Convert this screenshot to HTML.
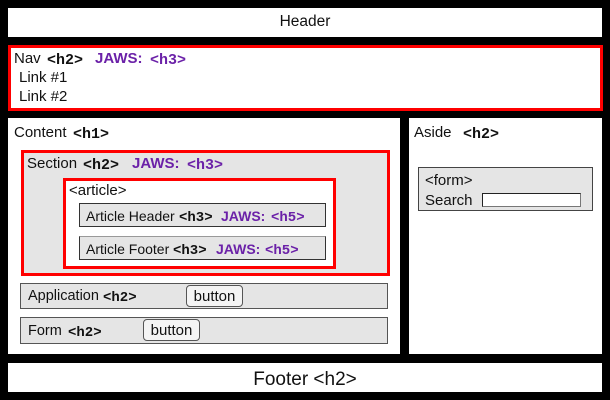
<!DOCTYPE html>
<html>
<head>
<meta charset="utf-8">
<style>
  html,body{margin:0;padding:0;}
  body{width:610px;height:400px;background:#000;position:relative;overflow:hidden;
       font-family:"Liberation Sans",Arial,sans-serif;color:#111;}
  .b{position:absolute;box-sizing:border-box;}
  .t{position:absolute;white-space:nowrap;line-height:1;font-family:"Liberation Sans",Arial,sans-serif;color:#111;margin-top:1px;}
  .m{position:absolute;white-space:nowrap;line-height:1;font-family:"Liberation Mono","Courier New",monospace;font-weight:bold;color:#111;margin-top:1.5px;}
  .j{position:absolute;white-space:nowrap;line-height:1;font-family:"Liberation Sans",Arial,sans-serif;font-weight:bold;color:#6b21a8;margin-top:1px;}
  .jm{position:absolute;white-space:nowrap;line-height:1;font-family:"Liberation Mono","Courier New",monospace;font-weight:bold;color:#6b21a8;margin-top:1.5px;}
  .f15{font-size:15px;}
  .f14{font-size:14px;}
  .btn{position:absolute;box-sizing:border-box;background:#f4f4f4;border:1px solid #555;border-radius:4px;
       font-family:"Liberation Sans",Arial,sans-serif;font-size:15px;line-height:21px;text-align:center;color:#111;}
</style>
</head>
<body>
  <!-- Header -->
  <div class="b" style="left:8px;top:8px;width:594px;height:29px;background:#fff;"></div>
  <div class="t" style="left:8px;width:594px;text-align:center;top:12.9px;font-size:15.5px;">Header</div>

  <!-- Nav -->
  <div class="b" style="left:8px;top:45px;width:595px;height:66px;background:#fff;border:3px solid #f00;"></div>
  <div class="t f15" style="left:14px;top:50.3px;">Nav</div>
  <div class="m f15" style="left:47px;top:51.5px;">&lt;h2&gt;</div>
  <div class="j f15" style="left:95px;top:50.3px;">JAWS:</div>
  <div class="jm f15" style="left:150px;top:51.5px;">&lt;h3&gt;</div>
  <div class="t f15" style="left:19px;top:69.3px;">Link #1</div>
  <div class="t f15" style="left:19px;top:88.3px;">Link #2</div>

  <!-- Content -->
  <div class="b" style="left:8px;top:118px;width:392px;height:236px;background:#fff;"></div>
  <div class="t f15" style="left:14px;top:124.3px;">Content</div>
  <div class="m f15" style="left:73px;top:125.5px;">&lt;h1&gt;</div>

  <!-- Section -->
  <div class="b" style="left:21px;top:150px;width:369px;height:126px;background:#e5e5e5;border:3px solid #f00;"></div>
  <div class="t f15" style="left:27px;top:155.3px;">Section</div>
  <div class="m f15" style="left:83px;top:156.5px;">&lt;h2&gt;</div>
  <div class="j f15" style="left:132px;top:155.3px;">JAWS:</div>
  <div class="jm f15" style="left:187px;top:156.5px;">&lt;h3&gt;</div>

  <!-- Article -->
  <div class="b" style="left:63px;top:178px;width:273px;height:91px;background:#fff;border:3px solid #f00;"></div>
  <div class="t f15" style="left:69px;top:182.3px;">&lt;article&gt;</div>

  <div class="b" style="left:79px;top:203px;width:247px;height:24px;background:#e5e5e5;border:1px solid #333;"></div>
  <div class="t f14" style="left:86px;top:208.2px;">Article Header</div>
  <div class="m f14" style="left:179px;top:209.3px;">&lt;h3&gt;</div>
  <div class="j f14" style="left:221px;top:208.2px;">JAWS:</div>
  <div class="jm f14" style="left:271px;top:209.3px;">&lt;h5&gt;</div>

  <div class="b" style="left:79px;top:236px;width:247px;height:24px;background:#e5e5e5;border:1px solid #333;border-top-color:#999;"></div>
  <div class="t f14" style="left:86px;top:241.2px;">Article Footer</div>
  <div class="m f14" style="left:173px;top:242.3px;">&lt;h3&gt;</div>
  <div class="j f14" style="left:216px;top:241.2px;">JAWS:</div>
  <div class="jm f14" style="left:265px;top:242.3px;">&lt;h5&gt;</div>

  <!-- Application -->
  <div class="b" style="left:20px;top:283px;width:368px;height:26px;background:#e5e5e5;border:1px solid #555;"></div>
  <div class="t f14" style="left:28px;top:288.2px;font-size:14.5px;">Application</div>
  <div class="m f14" style="left:103px;top:289.3px;">&lt;h2&gt;</div>
  <div class="btn" style="left:186px;top:285px;width:57px;height:22px;">button</div>

  <!-- Form -->
  <div class="b" style="left:20px;top:317px;width:368px;height:27px;background:#e5e5e5;border:1px solid #555;"></div>
  <div class="t f14" style="left:28px;top:323.2px;font-size:14.5px;">Form</div>
  <div class="m f14" style="left:68px;top:324.3px;">&lt;h2&gt;</div>
  <div class="btn" style="left:143px;top:319px;width:57px;height:22px;">button</div>

  <!-- Aside -->
  <div class="b" style="left:409px;top:118px;width:193px;height:236px;background:#fff;"></div>
  <div class="t f15" style="left:414px;top:124.3px;">Aside</div>
  <div class="m f15" style="left:463px;top:125.5px;">&lt;h2&gt;</div>
  <div class="b" style="left:418px;top:167px;width:175px;height:44px;background:#e5e5e5;border:1px solid #444;"></div>
  <div class="t f15" style="left:425px;top:172.3px;">&lt;form&gt;</div>
  <div class="t f15" style="left:425px;top:192.3px;">Search</div>
  <div class="b" style="left:482px;top:193px;width:99px;height:14px;background:#fff;border:1px solid #777;border-top-color:#222;border-left-color:#222;"></div>

  <!-- Footer -->
  <div class="b" style="left:8px;top:363px;width:594px;height:29px;background:#fff;"></div>
  <div class="t" style="left:8px;width:594px;text-align:center;top:368.9px;font-size:19px;">Footer &lt;h2&gt;</div>
</body>
</html>
